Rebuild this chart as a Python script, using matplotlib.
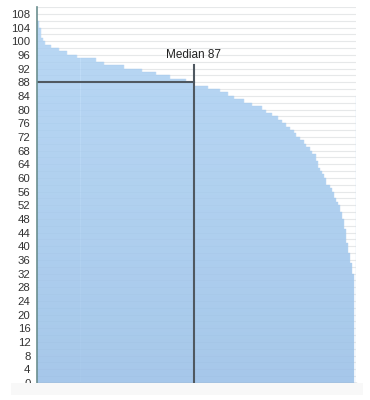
import numpy as np
import matplotlib
matplotlib.use('Agg')
import matplotlib.pyplot as plt
from matplotlib.path import Path
from matplotlib.colors import LinearSegmentedColormap
from matplotlib.patches import Rectangle

# step levels of the sorted bars and how many bars sit on each level
levels = [106, 104, 101, 100, 99, 98, 97, 96, 95, 94, 93, 92, 91, 90, 89, 88,
          87, 86, 85, 84, 83, 82, 81, 80, 79, 78, 77,
          76, 75, 74, 73, 72, 71, 70, 69, 68, 67, 65, 63,
          62, 61, 60, 58, 57, 56, 54, 53, 52, 50, 48, 45, 41, 38, 35, 32]
counts = [1, 1, 1, 1, 3, 4, 4, 5, 9, 4, 10, 9, 7, 7, 8, 4,
          7, 6, 4, 3, 5, 4, 5, 2, 3, 3, 2,
          2, 2, 2, 1, 2, 2, 1, 2, 1, 2, 1, 1,
          1, 1, 1, 2, 1, 1, 1, 1, 1, 1, 1, 1, 1, 1, 1, 1]
values = np.repeat(levels, counts)
median_guide = 88      # level of the horizontal guide
median_top = 93        # top of the vertical median line
edge_value = 84        # faint line at the right end
y_ticks = list(range(0, 109, 4))

n = len(values)
median = int(np.median(values))
median_pos = n // 2 - 1.5

fig = plt.figure(figsize=(3.7, 4.0), dpi=100)
ax = fig.add_axes([0.101, 0.0425, 0.862, 0.94])

# light band under the chart
fig.patches.append(Rectangle((0.03, 0.012), 0.95, 0.031, transform=fig.transFigure,
                             facecolor='#f8f8f8', edgecolor='none', zorder=0))

ax.set_ylim(0, 110)
ax.set_xlim(-0.5, n + 0.5)

for y in range(0, 111, 2):
    ax.axhline(y, color='#ececec', lw=0.8, zorder=0)

bars = ax.bar(np.arange(n), values, width=1.0, color='#b8d7f4',
              edgecolor='#a4c7ea', linewidth=0.3, zorder=2)

# vertical gradient clipped to the bars
clip = Path.make_compound_path(*[b.get_path().transformed(b.get_patch_transform()) for b in bars])
cmap = LinearSegmentedColormap.from_list('g', ['#a8c9eb', '#b7d6f3', '#c4e0fa'])
grad = np.linspace(0, 1, 256).reshape(-1, 1)
im = ax.imshow(grad, cmap=cmap, aspect='auto', origin='lower',
               extent=(-0.5, n - 0.5, 0, 110), zorder=2.5)
im.set_clip_path(clip, ax.transData)
for b in bars:
    b.set_facecolor('none')
    b.set_alpha(0.8)
    b.set_zorder(3)

for y in range(0, 111, 2):
    ax.axhline(y, color='#5c7fa8', lw=0.5, alpha=0.05, zorder=3.5)

ax.plot([n + 0.3, n + 0.3], [0, edge_value], color='#cfe3f6', lw=1, zorder=3)

ax.plot([-0.5, median_pos], [median_guide, median_guide], color='#4f5860', lw=1.5, zorder=4)
ax.plot([median_pos, median_pos], [0, median_top], color='#4f5860', lw=1.5, zorder=4)
ax.text(median_pos, median_top + 1.2, f'Median {median}', ha='center', va='bottom',
        fontsize=8.5, family='Liberation Sans', color='#222222')

ax.set_yticks(y_ticks)
ax.set_yticklabels([str(t) for t in y_ticks], fontsize=8.2, family='Liberation Sans', color='#333333')
ax.tick_params(axis='y', length=0, pad=5)
ax.set_xticks([])
for s in ['top', 'right']:
    ax.spines[s].set_visible(False)
ax.spines['left'].set_color('#6b8f8f')
ax.spines['left'].set_linewidth(1.2)
ax.spines['bottom'].set_color('#9aa0a6')
ax.spines['bottom'].set_linewidth(1.0)
ax.spines['left'].set_zorder(5)

fig.savefig('out.png', dpi=100)
